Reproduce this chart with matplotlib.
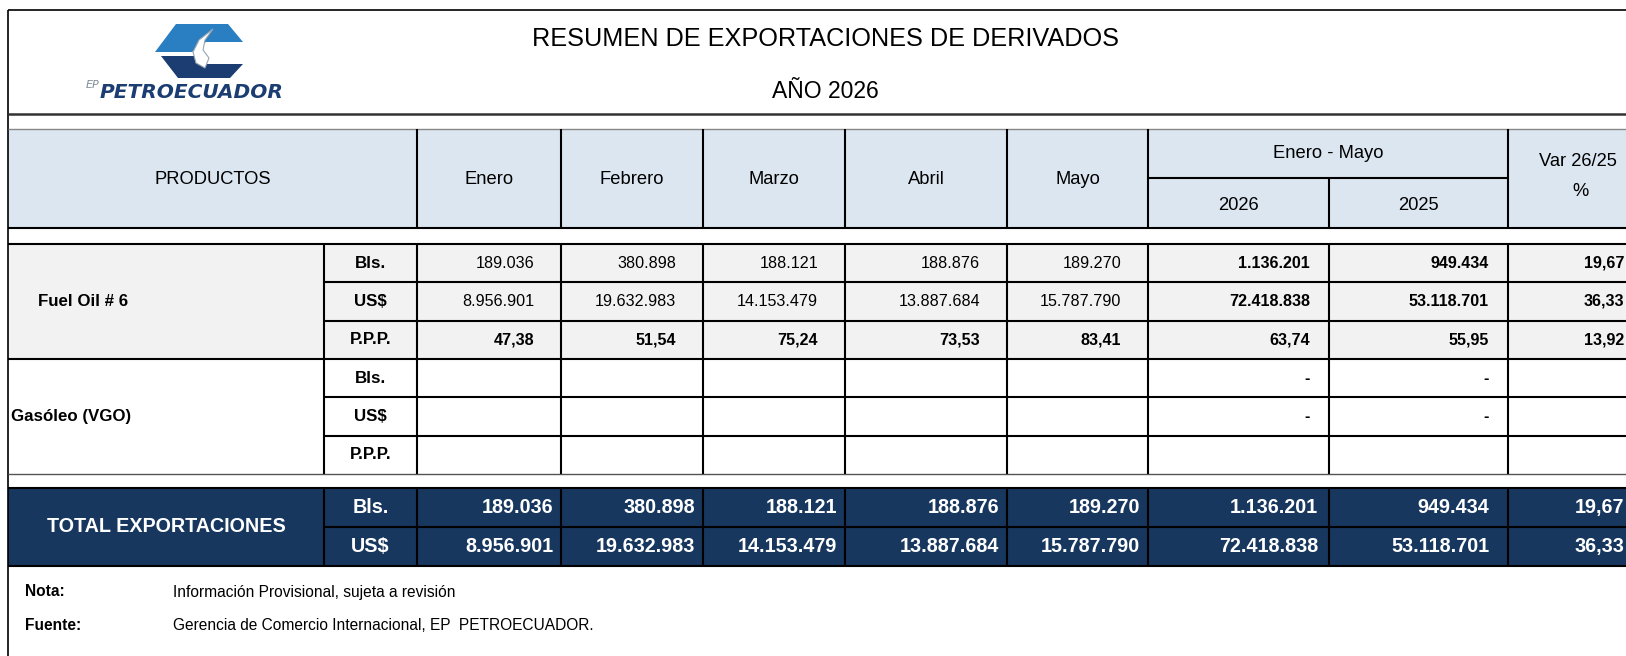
"""Resumen de exportaciones de derivados 2026 - table redrawn with matplotlib."""
import matplotlib

matplotlib.use("Agg")
import matplotlib.pyplot as plt
from matplotlib.patches import Polygon, Rectangle

plt.rcParams["font.family"] = ["Liberation Sans", "DejaVu Sans"]

# ---- data ----
months = ["Enero", "Febrero", "Marzo", "Abril", "Mayo"]
period_label = "Enero - Mayo"
years = ["2026", "2025"]
var_label = ["Var 26/25", "%"]

fuel_bls = [189036, 380898, 188121, 188876, 189270]
fuel_usd = [8956901, 19632983, 14153479, 13887684, 15787790]
fuel_ppp = [47.38, 51.54, 75.24, 73.53, 83.41]
fuel_bls_acc = [1136201, 949434]
fuel_usd_acc = [72418838, 53118701]
fuel_ppp_acc = [63.74, 55.95]
fuel_var = [19.67, 36.33, 13.92]

total_bls = [189036, 380898, 188121, 188876, 189270]
total_usd = [8956901, 19632983, 14153479, 13887684, 15787790]
total_bls_acc = [1136201, 949434]
total_usd_acc = [72418838, 53118701]
total_var = [19.67, 36.33]

units = ["Bls.", "US$", "P.P.P."]

# ---- layout (pixels) ----
W, H = 1626, 656
col_edges = [8, 324, 417, 561, 703, 845, 1007, 1148, 1329, 1508, 1645]
head_top, head_mid, head_bot = 129, 178, 228
body_top = 244
row_h = (474 - 244) / 6
tot_top, tot_h = 488, 39

NAVY = "#17375e"
HEAD_BG = "#dce6f1"
GREY_BG = "#f2f2f2"


def miles(v):
    return f"{v:,.0f}".replace(",", ".")


def dec(v):
    return f"{v:.2f}".replace(".", ",")


fig = plt.figure(figsize=(W / 100, H / 100), dpi=100)
ax = fig.add_axes([0, 0, 1, 1])
ax.set_xlim(0, W)
ax.set_ylim(H, 0)
ax.axis("off")


def hline(y, x0=8, x1=W, color="black", lw=1.5):
    ax.plot([x0, x1], [y, y], color=color, lw=lw, solid_capstyle="butt")


def vline(x, y0, y1, color="black", lw=1.5):
    ax.plot([x, x], [y0, y1], color=color, lw=lw, solid_capstyle="butt")


def rect(x0, y0, x1, y1, color):
    ax.add_patch(Rectangle((x0, y0), x1 - x0, y1 - y0, facecolor=color, edgecolor="none"))


# ---- logo ----
ax.add_patch(Polygon([(155, 52), (176, 24), (228, 24), (243, 42), (206, 42), (192, 52)],
                     facecolor="#2a7fc3", edgecolor="none"))
ax.add_patch(Polygon([(161, 56), (194, 56), (206, 64), (243, 64), (230, 78), (178, 78)],
                     facecolor="#1b3d72", edgecolor="none"))
ax.add_patch(Polygon([(213, 29), (199, 40), (193, 52), (196, 63), (205, 68), (209, 58), (203, 50), (205, 40)],
                     facecolor="white", edgecolor="#9aa4ae", lw=0.8))
ax.text(99, 85, "EP", fontsize=8, style="italic", color="#7f8c99", ha="right", va="center",
        family=["DejaVu Sans"])
ax.text(100, 93, "PETROECUADOR", fontsize=14.5, weight="bold", style="italic", color="#1b3d72",
        ha="left", va="center", family=["DejaVu Sans"])

# ---- title ----
ax.text(825, 39, "RESUMEN DE EXPORTACIONES DE DERIVADOS", fontsize=18.2, ha="center", va="center")
ax.text(825, 91, "AÑO 2026", fontsize=16.5, ha="center", va="center")

# ---- frame ----
hline(10, lw=1.2)
vline(8, 10, H, lw=1.2)
hline(114, color="#333333", lw=1.8)

# ---- header ----
rect(8, head_top, W, head_bot, HEAD_BG)
hline(head_top, color="#888888", lw=1.0)
hfs = 13.2
ax.text((col_edges[0] + col_edges[2]) / 2, 179, "PRODUCTOS", fontsize=hfs, ha="center", va="center")
for i, m in enumerate(months):
    xc = (col_edges[2 + i] + col_edges[3 + i]) / 2
    ax.text(xc, 179, m, fontsize=hfs, ha="center", va="center")
ax.text((col_edges[7] + col_edges[9]) / 2, 154, period_label, fontsize=hfs, ha="center", va="center")
for i, yr in enumerate(years):
    xc = (col_edges[7 + i] + col_edges[8 + i]) / 2
    ax.text(xc, 206, yr, fontsize=hfs, ha="center", va="center")
ax.text(1578, 161, var_label[0], fontsize=hfs, ha="center", va="center")
ax.text(1580, 191, var_label[1], fontsize=hfs, ha="center", va="center")
for x in col_edges[2:8] + [col_edges[9]]:
    vline(x, head_top, head_bot)
vline(col_edges[8], head_mid, head_bot)
hline(head_mid, col_edges[7], col_edges[9])
hline(head_bot)

# ---- body ----
rect(8, body_top, W, body_top + 3 * row_h, GREY_BG)
rows_y = [body_top + k * row_h for k in range(7)]
hline(body_top)
for k in (1, 2, 4, 5):
    hline(rows_y[k], col_edges[1], W)
hline(rows_y[3])
hline(rows_y[6], color="#555555", lw=1.0)
for x in col_edges[1:10]:
    vline(x, body_top, rows_y[6])

fs = 11.6
lfs = 12.2
pad_m = 27   # right padding in monthly columns
pad_acc = [19, 19]
pad_var = 2


def put_row(yc, month_vals, acc_vals, var_val, fmt, month_bold, white=False, pads=(pad_m, pad_acc)):
    color = "white" if white else "black"
    size = 14.2 if white else fs
    for i, v in enumerate(month_vals):
        if v is None:
            continue
        ax.text(col_edges[3 + i] - pads[0], yc, fmt(v), fontsize=size, ha="right", va="center",
                weight="bold" if month_bold else "normal", color=color)
    for i, v in enumerate(acc_vals):
        if v is None:
            continue
        s = v if isinstance(v, str) else fmt(v)
        ax.text(col_edges[8 + i] - pads[1][i], yc, s, fontsize=size, ha="right", va="center",
                weight="bold", color=color)
    if var_val is not None:
        ax.text(W - pad_var, yc, dec(var_val), fontsize=size, ha="right", va="center",
                weight="bold", color=color)


# Fuel Oil # 6
for k, u in enumerate(units):
    ax.text((col_edges[1] + col_edges[2]) / 2, rows_y[k] + row_h / 2, u, fontsize=lfs,
            weight="bold", ha="center", va="center")
ax.text(38, (rows_y[0] + rows_y[3]) / 2, "Fuel Oil # 6", fontsize=lfs, weight="bold", va="center")
put_row(rows_y[0] + row_h / 2, fuel_bls, fuel_bls_acc, fuel_var[0], miles, False)
put_row(rows_y[1] + row_h / 2, fuel_usd, fuel_usd_acc, fuel_var[1], miles, False)
put_row(rows_y[2] + row_h / 2, fuel_ppp, fuel_ppp_acc, fuel_var[2], dec, True)

# Gasoleo (VGO)
for k, u in enumerate(units):
    ax.text((col_edges[1] + col_edges[2]) / 2, rows_y[3 + k] + row_h / 2, u, fontsize=lfs,
            weight="bold", ha="center", va="center")
ax.text(11, (rows_y[3] + rows_y[6]) / 2, "Gasóleo (VGO)", fontsize=lfs, weight="bold", va="center")
put_row(rows_y[3] + row_h / 2, [None] * 5, ["-", "-"], None, miles, False)
put_row(rows_y[4] + row_h / 2, [None] * 5, ["-", "-"], None, miles, False)

# ---- totals ----
rect(8, tot_top, W, tot_top + 2 * tot_h, NAVY)
hline(tot_top)
hline(tot_top + tot_h, col_edges[1], W)
hline(tot_top + 2 * tot_h)
for x in col_edges[1:10]:
    vline(x, tot_top, tot_top + 2 * tot_h)
ax.text((col_edges[0] + col_edges[1]) / 2, tot_top + tot_h, "TOTAL EXPORTACIONES", fontsize=14.2,
        weight="bold", color="white", ha="center", va="center")
for k, u in enumerate(units[:2]):
    ax.text((col_edges[1] + col_edges[2]) / 2, tot_top + (k + 0.5) * tot_h, u, fontsize=14.2,
            weight="bold", color="white", ha="center", va="center")
put_row(tot_top + 0.5 * tot_h, total_bls, total_bls_acc, total_var[0], miles, True, white=True,
        pads=(8, [11, 19]))
put_row(tot_top + 1.5 * tot_h, total_usd, total_usd_acc, total_var[1], miles, True, white=True,
        pads=(8, [11, 19]))

# ---- notes ----
nfs = 11.2
ax.text(25, 592, "Nota:", fontsize=nfs, weight="bold", va="center")
ax.text(173, 592, "Información Provisional, sujeta a revisión", fontsize=nfs, va="center")
ax.text(25, 626, "Fuente:", fontsize=nfs, weight="bold", va="center")
ax.text(173, 626, "Gerencia de Comercio Internacional, EP  PETROECUADOR.", fontsize=nfs, va="center")

fig.savefig("out.png", dpi=100)
